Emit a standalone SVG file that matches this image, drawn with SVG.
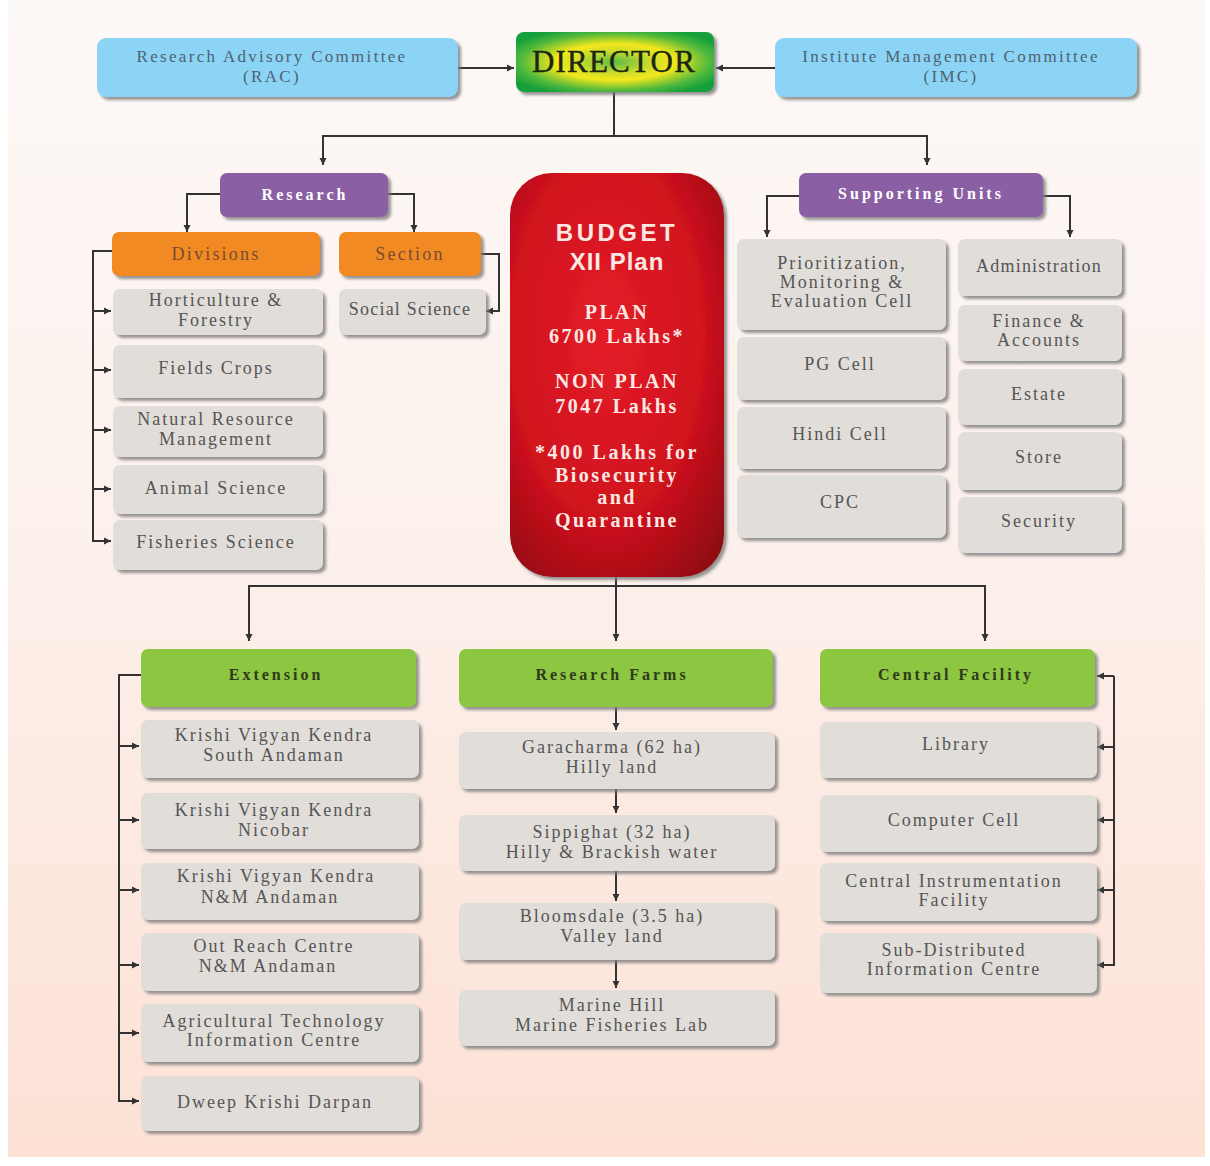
<svg xmlns="http://www.w3.org/2000/svg" width="1210" height="1166" viewBox="0 0 1210 1166">
<defs>
<linearGradient id="bg" x1="0" y1="0" x2="0" y2="1">
<stop offset="0" stop-color="#fdf9f7"/>
<stop offset="0.45" stop-color="#fcf1ec"/>
<stop offset="1" stop-color="#fde1d5"/>
</linearGradient>
<radialGradient id="dirg" cx="0.5" cy="0.5" r="0.6">
<stop offset="0" stop-color="#5dbb45"/>
<stop offset="0.3" stop-color="#c9dc2c"/>
<stop offset="0.5" stop-color="#f4e81c"/>
<stop offset="0.8" stop-color="#4fb83c"/>
<stop offset="1" stop-color="#13a03a"/>
</radialGradient>
<radialGradient id="redg" cx="0.45" cy="0.4" r="0.75">
<stop offset="0" stop-color="#e41e28"/>
<stop offset="0.6" stop-color="#d0121e"/>
<stop offset="1" stop-color="#8e0810"/>
</radialGradient>
<filter id="sh" x="-10%" y="-10%" width="125%" height="130%">
<feDropShadow dx="3" dy="3" stdDeviation="1.5" flood-color="#7a7a7a" flood-opacity="0.8"/>
</filter>
<marker id="ah" markerUnits="userSpaceOnUse" markerWidth="8" markerHeight="8" refX="7" refY="4" orient="auto">
<path d="M0,0.5 L7,4 L0,7.5 z" fill="#333"/>
</marker>
<style>
.box{filter:url(#sh)}
.blue{fill:#8bd4f5}
.purple{fill:#8b5ea3}
.orange{fill:#f18a22}
.grey{fill:#e1ddd9}
.green{fill:#8dc63f}
text{font-family:"Liberation Serif","Times New Roman",serif;text-anchor:middle}
.t{font-size:18px;letter-spacing:2px;fill:#555}
.tb{font-size:17px;letter-spacing:2.3px;fill:#4f6270}
.tp{font-size:16px;font-weight:bold;letter-spacing:3px;fill:#fff}
.to{font-size:18px;letter-spacing:2.2px;fill:#7a4b33}
.tg{font-size:16px;font-weight:bold;letter-spacing:3px;fill:#2d3a1c}
.tr{font-size:20px;font-weight:bold;letter-spacing:2.5px;fill:#fbe8e2}
.ts{font-family:"Liberation Sans",Arial,sans-serif;font-size:24px;font-weight:bold;fill:#fbe8e2}
.c{fill:none;stroke:#333;stroke-width:2}
</style>
</defs>
<rect width="1210" height="1166" fill="#ffffff"/>
<rect x="8" y="0" width="1197" height="1157" fill="url(#bg)"/>

<g id="connectors">
<path class="c" d="M458,68 H514" marker-end="url(#ah)"/>
<path class="c" d="M775,68 H716" marker-end="url(#ah)"/>
<path class="c" d="M614,92 V136"/>
<path class="c" d="M614,136 H323 V165" marker-end="url(#ah)"/>
<path class="c" d="M614,136 H927 V165" marker-end="url(#ah)"/>
<path class="c" d="M220,194 H187 V232" marker-end="url(#ah)"/>
<path class="c" d="M388,194 H414 V232" marker-end="url(#ah)"/>
<path class="c" d="M481,254 H499 V311 H486" marker-end="url(#ah)"/>
<path class="c" d="M112,251 H93 V541 H111" marker-end="url(#ah)"/>
<path class="c" d="M93,311 H111" marker-end="url(#ah)"/>
<path class="c" d="M93,370 H111" marker-end="url(#ah)"/>
<path class="c" d="M93,430 H111" marker-end="url(#ah)"/>
<path class="c" d="M93,489 H111" marker-end="url(#ah)"/>
<path class="c" d="M799,196 H767 V237" marker-end="url(#ah)"/>
<path class="c" d="M1043,196 H1070 V237" marker-end="url(#ah)"/>
<path class="c" d="M616,577 V586"/>
<path class="c" d="M616,586 H249 V641" marker-end="url(#ah)"/>
<path class="c" d="M616,586 H985 V641" marker-end="url(#ah)"/>
<path class="c" d="M616,586 V641" marker-end="url(#ah)"/>
<path class="c" d="M141,675 H119 V1101 H139" marker-end="url(#ah)"/>
<path class="c" d="M119,746 H139" marker-end="url(#ah)"/>
<path class="c" d="M119,820 H139" marker-end="url(#ah)"/>
<path class="c" d="M119,890 H139" marker-end="url(#ah)"/>
<path class="c" d="M119,965 H139" marker-end="url(#ah)"/>
<path class="c" d="M119,1033 H139" marker-end="url(#ah)"/>
<path class="c" d="M616,707 V730" marker-end="url(#ah)"/>
<path class="c" d="M616,789 V813" marker-end="url(#ah)"/>
<path class="c" d="M616,871 V901" marker-end="url(#ah)"/>
<path class="c" d="M616,960 V988" marker-end="url(#ah)"/>
<path class="c" d="M1114,676 H1097" marker-end="url(#ah)"/>
<path class="c" d="M1114,676 V965 H1097" marker-end="url(#ah)"/>
<path class="c" d="M1114,747 H1097" marker-end="url(#ah)"/>
<path class="c" d="M1114,820 H1097" marker-end="url(#ah)"/>
<path class="c" d="M1114,890 H1097" marker-end="url(#ah)"/>
</g>

<g id="rac"><rect class="box blue" x="97" y="38" width="361" height="59" rx="9"/>
<text class="tb" x="272" y="62">Research Advisory Committee</text><text class="tb" x="272" y="82">(RAC)</text></g>
<g id="director"><rect class="box" fill="url(#dirg)" x="516" y="32" width="198" height="60" rx="8"/>
<text x="614" y="72" style="font-size:31px;letter-spacing:1.2px;fill:#1c2610;stroke:#1c2610;stroke-width:0.4">DIRECTOR</text></g>
<g id="imc"><rect class="box blue" x="775" y="38" width="362" height="59" rx="9"/>
<text class="tb" x="951" y="62">Institute Management Committee</text><text class="tb" x="951" y="82">(IMC)</text></g>

<g id="research"><rect class="box purple" x="220" y="173" width="168" height="44" rx="7"/>
<text class="tp" x="305" y="200">Research</text></g>
<g id="divisions"><rect class="box orange" x="112" y="232" width="208" height="44" rx="7"/>
<text class="to" x="216" y="260">Divisions</text></g>
<g id="section"><rect class="box orange" x="339" y="232" width="142" height="44" rx="7"/>
<text class="to" x="410" y="260">Section</text></g>
<g id="social"><rect class="box grey" x="339" y="289" width="147" height="46" rx="7"/>
<text class="t" x="410" y="315" style="letter-spacing:1.2px">Social Science</text></g>
<g id="horti"><rect class="box grey" x="113" y="289" width="210" height="46" rx="7"/>
<text class="t" x="216" y="306">Horticulture &amp;</text><text class="t" x="216" y="326">Forestry</text></g>
<g id="fields"><rect class="box grey" x="113" y="345" width="210" height="53" rx="7"/>
<text class="t" x="216" y="374">Fields Crops</text></g>
<g id="nrm"><rect class="box grey" x="113" y="406" width="210" height="51" rx="7"/>
<text class="t" x="216" y="425">Natural Resource</text><text class="t" x="216" y="445">Management</text></g>
<g id="animal"><rect class="box grey" x="113" y="465" width="210" height="49" rx="7"/>
<text class="t" x="216" y="494">Animal Science</text></g>
<g id="fisheries"><rect class="box grey" x="113" y="520" width="210" height="50" rx="7"/>
<text class="t" x="216" y="548">Fisheries Science</text></g>

<g id="budget"><rect class="box" fill="url(#redg)" x="510" y="173" width="214" height="404" rx="42"/>
<text class="ts" x="617" y="241" style="letter-spacing:3.5px">BUDGET</text>
<text class="ts" x="617" y="270" style="letter-spacing:1px">XII Plan</text>
<text class="tr" x="617" y="319">PLAN</text>
<text class="tr" x="617" y="343">6700 Lakhs*</text>
<text class="tr" x="617" y="388">NON PLAN</text>
<text class="tr" x="617" y="413">7047 Lakhs</text>
<text class="tr" x="617" y="459">*400 Lakhs for</text>
<text class="tr" x="617" y="482">Biosecurity</text>
<text class="tr" x="617" y="504">and</text>
<text class="tr" x="617" y="527">Quarantine</text></g>

<g id="supporting"><rect class="box purple" x="799" y="173" width="244" height="44" rx="7"/>
<text class="tp" x="921" y="199">Supporting Units</text></g>
<g id="pme"><rect class="box grey" x="737" y="239" width="209" height="91" rx="7"/>
<text class="t" x="842" y="269">Prioritization,</text><text class="t" x="842" y="288">Monitoring &amp;</text><text class="t" x="842" y="307">Evaluation Cell</text></g>
<g id="pg"><rect class="box grey" x="737" y="337" width="209" height="63" rx="7"/>
<text class="t" x="840" y="370">PG Cell</text></g>
<g id="hindi"><rect class="box grey" x="737" y="407" width="209" height="62" rx="7"/>
<text class="t" x="840" y="440">Hindi Cell</text></g>
<g id="cpc"><rect class="box grey" x="737" y="475" width="209" height="63" rx="7"/>
<text class="t" x="840" y="508">CPC</text></g>
<g id="admin"><rect class="box grey" x="958" y="239" width="164" height="57" rx="7"/>
<text class="t" x="1039" y="272" style="letter-spacing:1.2px">Administration</text></g>
<g id="finance"><rect class="box grey" x="958" y="305" width="164" height="56" rx="7"/>
<text class="t" x="1039" y="327">Finance &amp;</text><text class="t" x="1039" y="346">Accounts</text></g>
<g id="estate"><rect class="box grey" x="958" y="369" width="164" height="56" rx="7"/>
<text class="t" x="1039" y="400">Estate</text></g>
<g id="store"><rect class="box grey" x="958" y="432" width="164" height="58" rx="7"/>
<text class="t" x="1039" y="463">Store</text></g>
<g id="security"><rect class="box grey" x="958" y="497" width="164" height="56" rx="7"/>
<text class="t" x="1039" y="527">Security</text></g>

<g id="extension"><rect class="box green" x="141" y="649" width="275" height="58" rx="7"/>
<text class="tg" x="276" y="680">Extension</text></g>
<g id="kvk-sa"><rect class="box grey" x="141" y="720" width="278" height="58" rx="7"/>
<text class="t" x="274" y="741">Krishi Vigyan Kendra</text><text class="t" x="274" y="761">South Andaman</text></g>
<g id="kvk-nic"><rect class="box grey" x="141" y="793" width="278" height="56" rx="7"/>
<text class="t" x="274" y="816">Krishi Vigyan Kendra</text><text class="t" x="274" y="836">Nicobar</text></g>
<g id="kvk-nm"><rect class="box grey" x="141" y="863" width="278" height="57" rx="7"/>
<text class="t" x="276" y="882">Krishi Vigyan Kendra</text><text class="t" x="270" y="903">N&amp;M Andaman</text></g>
<g id="orc"><rect class="box grey" x="141" y="933" width="278" height="58" rx="7"/>
<text class="t" x="274" y="952">Out Reach Centre</text><text class="t" x="268" y="972">N&amp;M Andaman</text></g>
<g id="atic"><rect class="box grey" x="141" y="1004" width="278" height="58" rx="7"/>
<text class="t" x="274" y="1027">Agricultural Technology</text><text class="t" x="274" y="1046">Information Centre</text></g>
<g id="dkd"><rect class="box grey" x="141" y="1076" width="278" height="55" rx="7"/>
<text class="t" x="275" y="1108">Dweep Krishi Darpan</text></g>

<g id="farms"><rect class="box green" x="459" y="649" width="314" height="58" rx="7"/>
<text class="tg" x="612" y="680">Research Farms</text></g>
<g id="garacharma"><rect class="box grey" x="459" y="732" width="316" height="57" rx="7"/>
<text class="t" x="612" y="753">Garacharma (62 ha)</text><text class="t" x="612" y="773">Hilly land</text></g>
<g id="sippighat"><rect class="box grey" x="459" y="815" width="316" height="56" rx="7"/>
<text class="t" x="612" y="838">Sippighat (32 ha)</text><text class="t" x="612" y="858">Hilly &amp; Brackish water</text></g>
<g id="bloomsdale"><rect class="box grey" x="459" y="903" width="316" height="57" rx="7"/>
<text class="t" x="612" y="922">Bloomsdale (3.5 ha)</text><text class="t" x="612" y="942">Valley land</text></g>
<g id="marinehill"><rect class="box grey" x="459" y="990" width="316" height="56" rx="7"/>
<text class="t" x="612" y="1011">Marine Hill</text><text class="t" x="612" y="1031">Marine Fisheries Lab</text></g>

<g id="central"><rect class="box green" x="820" y="649" width="275" height="58" rx="7"/>
<text class="tg" x="956" y="680">Central Facility</text></g>
<g id="library"><rect class="box grey" x="820" y="722" width="277" height="56" rx="7"/>
<text class="t" x="956" y="750">Library</text></g>
<g id="computer"><rect class="box grey" x="820" y="795" width="277" height="57" rx="7"/>
<text class="t" x="954" y="826">Computer Cell</text></g>
<g id="cif"><rect class="box grey" x="820" y="863" width="277" height="58" rx="7"/>
<text class="t" x="954" y="887">Central Instrumentation</text><text class="t" x="954" y="906">Facility</text></g>
<g id="sdic"><rect class="box grey" x="820" y="933" width="277" height="60" rx="7"/>
<text class="t" x="954" y="956">Sub-Distributed</text><text class="t" x="954" y="975">Information Centre</text></g>
</svg>
